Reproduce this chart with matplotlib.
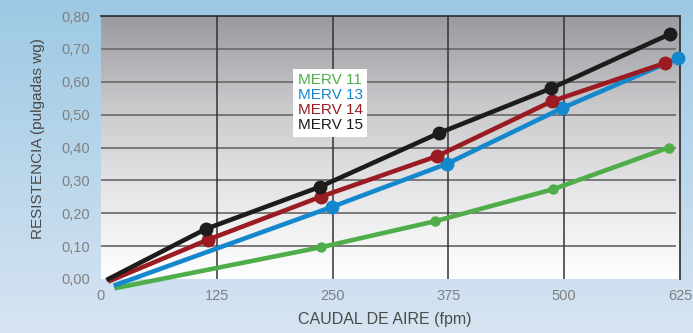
import numpy as np
import matplotlib
matplotlib.use('Agg')
import matplotlib.pyplot as plt
from matplotlib.colors import LinearSegmentedColormap

plt.rcParams['font.family'] = ['Liberation Sans', 'DejaVu Sans']

# data
labels = ['MERV 11', 'MERV 13', 'MERV 14', 'MERV 15']
colors = ['#4fae4a', '#1488cc', '#9a1c22', '#1e1b1b']
merv11_x = [17, 238, 361, 488, 613]
merv11_y = [-0.027, 0.097, 0.176, 0.273, 0.400]
merv13_x = [16, 249, 373, 498, 623]
merv13_y = [-0.018, 0.219, 0.350, 0.520, 0.672]
merv14_x = [10, 115, 237, 363, 487, 609]
merv14_y = [-0.005, 0.119, 0.250, 0.374, 0.541, 0.657]
merv15_x = [8, 113, 236, 365, 486, 614]
merv15_y = [0.000, 0.152, 0.280, 0.444, 0.580, 0.745]
xticks = [0, 125, 250, 375, 500, 625]
yticks = [0.0, 0.1, 0.2, 0.3, 0.4, 0.5, 0.6, 0.7, 0.8]

fig = plt.figure(figsize=(6.93, 3.33), dpi=100)

# figure background gradient
bg = fig.add_axes([0, 0, 1, 1], zorder=-5)
bg_cmap = LinearSegmentedColormap.from_list('bg', ['#d7e4f2', '#9dc9e4'])
bg.imshow(np.linspace(0, 1, 256).reshape(-1, 1), cmap=bg_cmap, aspect='auto',
          origin='lower', extent=[0, 1, 0, 1])
bg.axis('off')

ax = fig.add_axes([101/693, 54/333, 579/693, 263/333])
ax.set_facecolor('none')
ax.set_xlim(0, 625)
ax.set_ylim(0, 0.8)

# plot area gradient
pa_cmap = LinearSegmentedColormap.from_list('pa', ['#ffffff', '#e6e6e8', '#c9c9cc', '#9a9a9f'])
ax.imshow(np.linspace(0, 1, 256).reshape(-1, 1), cmap=pa_cmap, aspect='auto',
          origin='lower', extent=[0, 625, 0, 0.8], zorder=0)

for y in yticks[1:-1]:
    ax.plot([0, 620], [y, y], color='#707070', lw=1.3, zorder=1)
for x in xticks[1:-1]:
    ax.plot([x, x], [0, 0.8], color='#333333', lw=1.1, zorder=1)

series = [(merv11_x, merv11_y, 6.5), (merv13_x, merv13_y, 9),
          (merv14_x, merv14_y, 9), (merv15_x, merv15_y, 9)]
for (xs, ys, ms), lab, c in zip(series, labels, colors):
    ax.plot(xs, ys, color=c, lw=3.3, zorder=3, clip_on=False, label=lab)
    ax.plot(xs[1:], ys[1:], 'o', color=c, ms=ms, zorder=4, clip_on=False)

for s in ['left', 'bottom']:
    ax.spines[s].set_visible(False)
for s in ['top', 'right']:
    ax.spines[s].set_color('#2a2a2a')
    ax.spines[s].set_linewidth(1.2)

ax.set_xticks(xticks)
ax.set_xticklabels([str(t) for t in xticks])
ax.set_yticks(yticks)
ax.set_yticklabels([f'{t:.2f}'.replace('.', ',') for t in yticks])
ax.tick_params(length=0, colors='#808080', labelsize=10.5)
ax.tick_params(axis='x', pad=7)
ax.tick_params(axis='y', pad=8)

ax.set_xlabel('CAUDAL DE AIRE (fpm)', color='#4a4a4a', fontsize=11.5)
ax.xaxis.set_label_coords(0.49, -0.125)
ax.set_ylabel('RESISTENCIA (pulgadas wg)', color='#4a4a4a', fontsize=11)
ax.yaxis.set_label_coords(-0.096, 0.535)

leg = ax.legend(loc='upper left', bbox_to_anchor=(0.332, 0.8), handlelength=0,
                handletextpad=0, fontsize=11, frameon=True, fancybox=False,
                framealpha=1, edgecolor='none', borderpad=0.3, labelspacing=0.06,
                borderaxespad=0, labelcolor=colors)
for h in leg.legend_handles:
    h.set_visible(False)

fig.savefig('out.png', dpi=100)
